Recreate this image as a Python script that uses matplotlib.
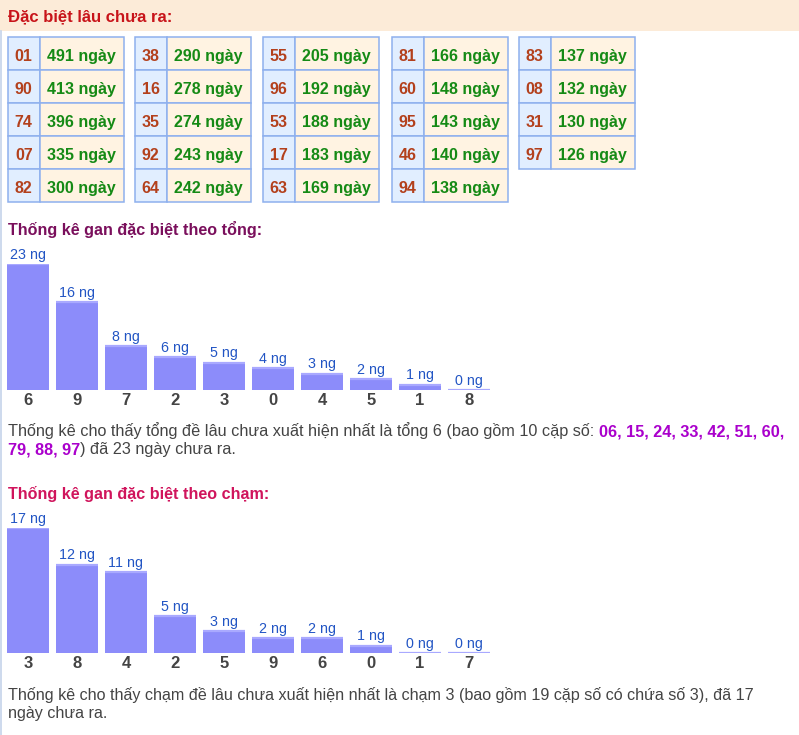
import matplotlib
matplotlib.use("Agg")
import matplotlib.pyplot as plt
from matplotlib.patches import Rectangle

# ---------------- data ----------------
header_title = "Đặc biệt lâu chưa ra:"
table_numbers = [
    ["01", "90", "74", "07", "82"],
    ["38", "16", "35", "92", "64"],
    ["55", "96", "53", "17", "63"],
    ["81", "60", "95", "46", "94"],
    ["83", "08", "31", "97"],
]
table_days = [
    [491, 413, 396, 335, 300],
    [290, 278, 274, 243, 242],
    [205, 192, 188, 183, 169],
    [166, 148, 143, 140, 138],
    [137, 132, 130, 126],
]

tong_title = "Thống kê gan đặc biệt theo tổng:"
tong_labels = ["6", "9", "7", "2", "3", "0", "4", "5", "1", "8"]
tong_values = [23, 16, 8, 6, 5, 4, 3, 2, 1, 0]
tong_par = [
    [("Thống kê cho thấy tổng đề lâu chưa xuất hiện nhất là tổng 6 (bao gồm 10 cặp số: ", "n"),
     ("06, 15, 24, 33, 42, 51, 60,", "h")],
    [("79, 88, 97", "h"), (") đã 23 ngày chưa ra.", "n")],
]

cham_title = "Thống kê gan đặc biệt theo chạm:"
cham_labels = ["3", "8", "4", "2", "5", "9", "6", "0", "1", "7"]
cham_values = [17, 12, 11, 5, 3, 2, 2, 1, 0, 0]
cham_par = [
    [("Thống kê cho thấy chạm đề lâu chưa xuất hiện nhất là chạm 3 (bao gồm 19 cặp số có chứa số 3), đã 17", "n")],
    [("ngày chưa ra.", "n")],
]

# ---------------- style ----------------
FONT = ["Liberation Sans", "DejaVu Sans"]
NARROW = ["Liberation Sans Narrow", "Liberation Sans", "DejaVu Sans"]
plt.rcParams["font.family"] = FONT

W, H = 799, 735
fig = plt.figure(figsize=(W / 100, H / 100), dpi=100)
fig.patch.set_facecolor("white")
ax0 = fig.add_axes([0, 0, 1, 1])
ax0.set_xlim(0, W)
ax0.set_ylim(H, 0)
ax0.axis("off")

# header band
ax0.add_patch(Rectangle((0, 0), W, 31, facecolor="#FCEBD8", edgecolor="none"))
ax0.text(8, 21, header_title, color="#C8141A", fontsize=12, fontweight="bold",
         va="baseline", ha="left")
# left container border
ax0.plot([0.5, 0.5], [31, H], color="#C5D3EA", lw=1.2)

# table
group_x = [8, 135, 263, 392, 519]
num_w, day_w, row_h, top = 31.5, 84, 33, 37
border = "#8EB0EE"
for g, gx in enumerate(group_x):
    for r, (n, d) in enumerate(zip(table_numbers[g], table_days[g])):
        y = top + r * row_h
        ax0.add_patch(Rectangle((gx, y), num_w, row_h, facecolor="#E1EEFF",
                                edgecolor=border, lw=1.1))
        ax0.add_patch(Rectangle((gx + num_w, y), day_w, row_h, facecolor="#FFF3E2",
                                edgecolor=border, lw=1.1))
        ax0.text(gx + num_w / 2, y + 24, n, color="#B3401C", fontsize=11.5,
                 fontweight="bold", ha="center", va="baseline")
        ax0.text(gx + num_w + day_w / 2, y + 24, f"{d} ngày", color="#158A15",
                 fontsize=11.5, fontweight="bold", ha="center", va="baseline")

# titles
ax0.text(8, 235, tong_title, color="#7A0F5C", fontsize=11.6, fontweight="bold",
         va="baseline", ha="left")
ax0.text(8, 499, cham_title, color="#D0145C", fontsize=11.6, fontweight="bold",
         va="baseline", ha="left")


def bar_chart(labels, values, baseline_px, height_px):
    left_px, pitch = 3.5, 49
    n = len(values)
    ax = fig.add_axes([left_px / W, (H - baseline_px) / H, pitch * n / W, height_px / H])
    xs = list(range(n))
    bw = 42 / pitch
    ax.bar(xs, values, width=bw, color="#8C8CFA", edgecolor="none")
    ax.hlines(values, [x - bw / 2 for x in xs], [x + bw / 2 for x in xs],
              color="#A9A9FF", lw=1.6)
    ax.set_xlim(-0.5, n - 0.5)
    ax.set_ylim(0, max(values))
    for x, v in zip(xs, values):
        ax.annotate(f"{v} ng", (x, v), xytext=(0, 3.8), textcoords="offset points",
                    ha="center", va="baseline", color="#2255C4", fontsize=10.3,
                    annotation_clip=False)
    ax.set_xticks(xs)
    ax.set_xticklabels(labels, fontsize=12, fontweight="bold", color="#444444")
    ax.tick_params(axis="x", length=0, pad=2.5)
    ax.set_yticks([])
    for s in ax.spines.values():
        s.set_visible(False)
    ax.patch.set_alpha(0)
    return ax


bar_chart(tong_labels, tong_values, 390, 126)
bar_chart(cham_labels, cham_values, 653, 125)

# paragraphs
renderer = fig.canvas.get_renderer()


def paragraph(lines, baselines, target_width):
    size = 11

    def layout(sz):
        texts = []
        widths = []
        for line, yb in zip(lines, baselines):
            x = 8
            for seg, kind in line:
                t = ax0.text(x, yb, seg, fontsize=sz, va="baseline", ha="left",
                             family=NARROW,
                             color="#AA00CC" if kind == "h" else "#444444",
                             fontweight="bold" if kind == "h" else "normal")
                bb = t.get_window_extent(renderer)
                x += bb.width
                texts.append(t)
            widths.append(x - 8)
        return texts, widths
    texts, widths = layout(size)
    for t in texts:
        t.remove()
    size = size * target_width / widths[0]
    layout(size)


paragraph(tong_par, [436, 454], 774)
paragraph(cham_par, [700, 718], 747)

fig.savefig("out.png", dpi=100, facecolor="white")
